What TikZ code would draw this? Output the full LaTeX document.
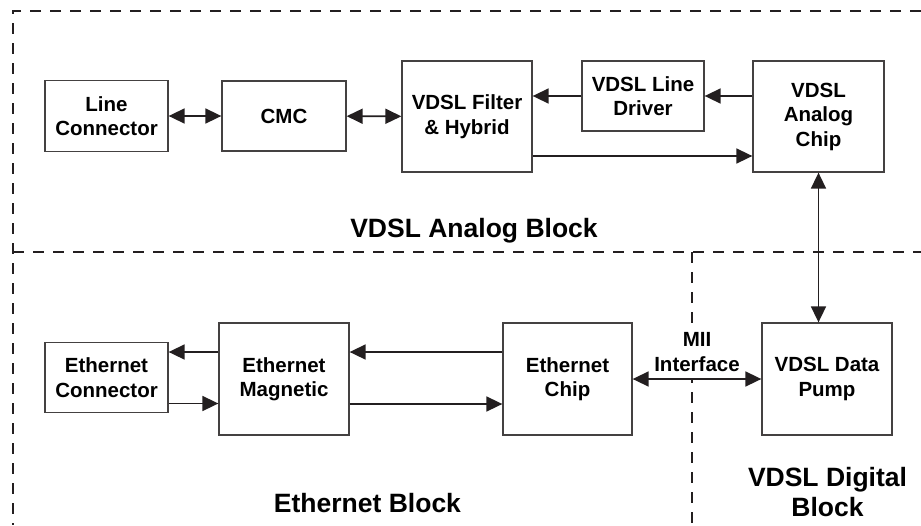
\documentclass[tikz,border=0pt]{standalone}
\usepackage{fontspec}
\setmainfont{Liberation Sans}
\usetikzlibrary{arrows.meta,calc}
\definecolor{ink}{HTML}{231F20}
\begin{document}
\begin{tikzpicture}[
                x = 1pt, y = -1pt,
                unit/.style={draw=ink!85, line width=1.3pt, fill=white, align=center,
                    inner sep=0pt, font=\fontsize{20.5}{24.5}\selectfont\bfseries},
                link/.style={draw=ink, line width=1.7pt, -{Triangle[length=16pt, width=15pt]}},
                dlink/.style={link, {Triangle[length=16pt, width=15pt]}-{Triangle[length=16pt, width=15pt]}},
                border/.style={draw=ink, line width=2.6pt, dash pattern=on 11pt off 9pt},
                title/.style={font=\fontsize{26.5}{30.5}\selectfont\bfseries, align=center, inner sep=0pt}
            ]
                \useasboundingbox (0, 0) rectangle (921, 525);

                % block borders
                \draw[border] (921, 11) -| (13, 525);
                \draw[border] (13, 252) -- (921, 252);
                \draw[border] (692, 252) -- (692, 525);

                % VDSL analog block
                \node[unit, minimum width=123pt, minimum height=71pt] (lineconn) at (106.5, 116) {Line\\Connector};
                \node[unit, minimum width=124pt, minimum height=70pt] (cmc) at (284, 116) {CMC};
                \node[unit, minimum width=130pt, minimum height=111pt] (filter) at (467, 116.5) {VDSL Filter\\\& Hybrid};
                \node[unit, minimum width=122pt, minimum height=70pt] (driver) at (643, 96) {VDSL Line\\Driver};
                \node[unit, minimum width=131pt, minimum height=111pt] (analog) at (818.5, 116.5) {VDSL\\Analog\\Chip};

                % ethernet and digital blocks
                \node[unit, minimum width=123pt, minimum height=70pt] (ethconn) at (106.5, 377.5) {Ethernet\\Connector};
                \node[unit, minimum width=130pt, minimum height=112pt] (ethmag) at (284, 379) {Ethernet\\Magnetic};
                \node[unit, minimum width=129pt, minimum height=112pt] (ethchip) at (567.5, 379) {Ethernet\\Chip};
                \node[unit, minimum width=130pt, minimum height=112pt] (pump) at (827, 379) {VDSL Data\\Pump};

                \node[unit, draw=none, inner xsep=2pt, inner ysep=8pt] (mii) at (697, 352) {MII\\Interface};

                \node[title, anchor=base] (analogblk) at (474, 237) {VDSL Analog Block};
                \node[title, anchor=base] (ethblk) at (367.5, 512) {Ethernet Block};
                \node[title] (digitalblk) at (827.5, 492) {VDSL Digital\\Block};

                \draw[dlink] (lineconn) -- (cmc);
                \draw[dlink] (cmc) -- (filter);
                \draw[link] (driver.west) -- (filter.east |- driver.west);
                \draw[link] (analog.west |- driver.east) -- (driver.east);
                \draw[link] ($(filter.east)+(0, 39.5)$) coordinate (f1) -- (f1 -| analog.west);
                \draw[dlink] (analog.south) -- (analog.south |- pump.north);

                \draw[dlink] (ethchip) -- (pump);
                \draw[link] ($(ethchip.west)+(0, -27)$) coordinate (c1) -- (c1 -| ethmag.east);
                \draw[link] ($(ethmag.east)+(0, 25)$) coordinate (m2) -- (m2 -| ethchip.west);
                \draw[link] ($(ethmag.west)+(0, -27)$) coordinate (m1) -- (m1 -| ethconn.east);
                \draw[link] ($(ethconn.east)+(0, 26)$) coordinate (e1) -- (e1 -| ethmag.west);
            \end{tikzpicture}
\end{document}
